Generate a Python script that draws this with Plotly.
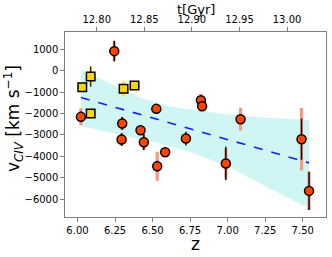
import plotly.graph_objects as go

# ---- data ----
# red circles
c_z    = [6.023, 6.245, 6.298, 6.294, 6.420, 6.442, 6.525, 6.531, 6.584, 6.722, 6.822, 6.830, 7.086, 6.988, 7.492, 7.542]
c_v    = [-2158, 907, -2467, -3214, -2780, -3340, -1786, -4460, -3807, -3169, -1380, -1660, -2267, -4335, -3200, -5612]
c_err_k = [250, 480, 300, 300, 120, 380, 230, 250, 100, 320, 150, 120, 150, 780, 960, 890]
c_err_o = [400, 450, 300, 280, 100, 330, 200, 680, 80, 250, 300, 100, 530, 700, 1460, 900]
# yellow squares
s_z    = [6.032, 6.088, 6.088, 6.307, 6.380]
s_v    = [-773, -275, -2000, -853, -695]
s_err_k = [100, 480, 150, 200, 100]
s_err_y = [120, 400, 180, 360, 100]
z_err  = 0.03

# linear fit and its confidence band
fit_z = [6.023, 7.542]
fit_v = [-1255, -4305]
band_z     = [6.023, 6.15, 6.30, 6.45, 6.60, 6.75, 7.00, 7.25, 7.542]
band_upper = [30, -380, -900, -1350, -1650, -1820, -2050, -2200, -2310]
band_lower = [-2600, -2800, -3030, -3250, -3500, -3800, -4450, -5400, -6420]

x_ticks = [6.00, 6.25, 6.50, 6.75, 7.00, 7.25, 7.50]
y_ticks = [1000, 0, -1000, -2000, -3000, -4000, -5000, -6000]
t_ticks = [12.80, 12.85, 12.90, 12.95, 13.00]

FONT = "DejaVu Sans"
SPINE = "#7f7f7f"

fig = go.Figure()

# confidence band
fig.add_trace(go.Scatter(x=band_z + band_z[::-1], y=band_upper + band_lower[::-1],
                         fill="toself", fillcolor="rgba(175,238,238,0.6)",
                         line=dict(width=0), mode="lines", hoverinfo="skip", showlegend=False))
# fit line
fig.add_trace(go.Scatter(x=fit_z, y=fit_v, mode="lines",
                         line=dict(color="#1a1aff", width=1.6, dash="dash"), showlegend=False))

# thick coloured error bars
fig.add_trace(go.Scatter(x=c_z, y=c_v, mode="markers", marker=dict(size=1, opacity=0),
                         error_y=dict(type="data", array=c_err_o, color="#f79a7e", thickness=3.2, width=0),
                         showlegend=False))
fig.add_trace(go.Scatter(x=s_z, y=s_v, mode="markers", marker=dict(size=1, opacity=0),
                         error_y=dict(type="data", array=s_err_y, color="#ffe44a", thickness=3.2, width=0),
                         showlegend=False))
# black error bars + markers
fig.add_trace(go.Scatter(x=c_z, y=c_v, mode="markers",
                         marker=dict(symbol="circle", size=9, color="#ff4500",
                                     line=dict(color="black", width=1.5)),
                         error_y=dict(type="data", array=c_err_k, color="black", thickness=1.4, width=0),
                         error_x=dict(type="constant", value=z_err, color="black", thickness=1, width=0),
                         showlegend=False))
fig.add_trace(go.Scatter(x=s_z, y=s_v, mode="markers",
                         marker=dict(symbol="square", size=8.5, color="#ffd700",
                                     line=dict(color="black", width=1.5)),
                         error_y=dict(type="data", array=s_err_k, color="#333300", thickness=1.4, width=0),
                         error_x=dict(type="constant", value=z_err, color="black", thickness=1, width=0),
                         showlegend=False))
# top axis carrier
fig.add_trace(go.Scatter(x=t_ticks, y=[None] * len(t_ticks), xaxis="x2", mode="markers",
                         showlegend=False, hoverinfo="skip"))

axis_common = dict(showgrid=False, zeroline=False, showline=True, linecolor=SPINE, linewidth=1.3,
                   ticks="outside", ticklen=3.5, tickcolor=SPINE, tickwidth=1)

fig.update_layout(
    width=332, height=257,
    margin=dict(l=65, r=6, t=32, b=40),
    paper_bgcolor="white", plot_bgcolor="white",
    font=dict(family=FONT, size=10, color="black"),
    xaxis=dict(range=[5.917, 7.655], tickvals=x_ticks, ticktext=[f"{v:.2f}" for v in x_ticks],
               **axis_common),
    xaxis2=dict(range=[12.7667, 13.0409], overlaying="x", side="top", tickvals=t_ticks,
                ticktext=[f"{v:.2f}" for v in t_ticks], **axis_common),
    yaxis=dict(range=[-6830, 1800], tickvals=y_ticks, mirror=True, **axis_common),
    annotations=[
        dict(text="z", x=0.5, y=-0.145, xref="paper", yref="paper", showarrow=False,
             xanchor="center", yanchor="middle", font=dict(size=17)),
        dict(text="t[Gyr]", x=0.5, y=1.122, xref="paper", yref="paper", showarrow=False,
             xanchor="center", yanchor="middle", font=dict(size=13)),
        dict(text="v<sub><i>CIV</i></sub> [km s<sup>−1</sup>]", x=-0.195, y=0.53,
             xref="paper", yref="paper", showarrow=False, textangle=-90,
             xanchor="center", yanchor="middle", font=dict(size=17)),
    ],
)

# remove the browser's default 8 px body margin so the figure fills the window
fig.write_html("out.html", config={"displayModeBar": False},
               post_script="document.body.style.margin='0px';")
